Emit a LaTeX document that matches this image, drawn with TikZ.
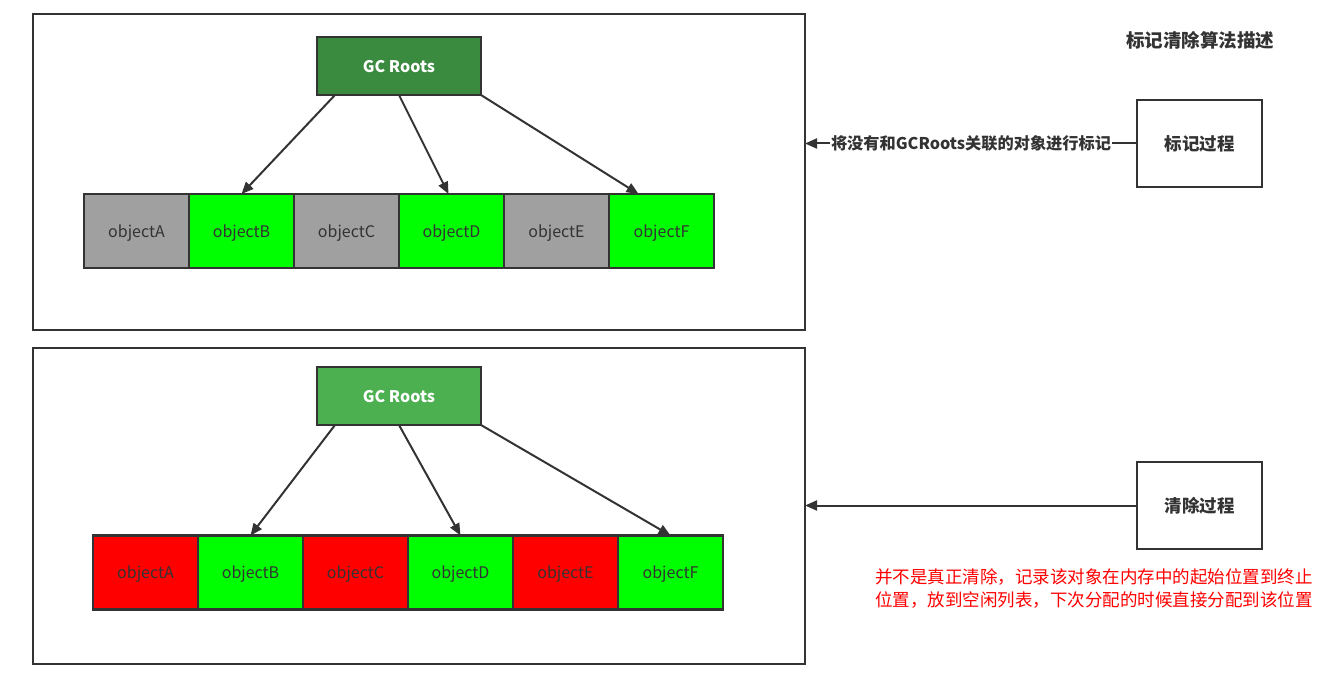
\documentclass[tikz,border=0pt]{standalone}
\usepackage{fontspec}
\setmainfont{Noto Sans CJK SC}
\usepackage{xcolor}
\usetikzlibrary{arrows.meta,positioning}

\definecolor{lineGray}{HTML}{333333}
\definecolor{objGray}{HTML}{A0A0A0}
\definecolor{objGreen}{HTML}{00FF00}
\definecolor{objRed}{HTML}{FF0000}
\definecolor{rootDark}{HTML}{3A8A3F}
\definecolor{rootLight}{HTML}{4CAF50}

\tikzset{
  frame/.style={draw=lineGray, line width=2pt, minimum width=772pt, minimum height=316pt, inner sep=0pt, outer sep=0pt},
  root/.style={draw=lineGray, line width=2pt, minimum width=164pt, minimum height=58pt, outer sep=0pt, text depth=0pt, text=white, font=\bfseries\fontsize{16}{19}\selectfont},
  obj/.style={draw=lineGray, line width=2.5pt, minimum width=105pt, minimum height=74pt, inner sep=0pt, outer sep=0pt, text depth=0pt, text=lineGray, font=\fontsize{16}{19}\selectfont},
  procbox/.style={draw=lineGray, line width=2pt, minimum width=125pt, minimum height=87pt, outer sep=0pt, text=lineGray, font=\bfseries\fontsize{17.5}{21}\selectfont},
  arr/.style={draw=lineGray, line width=2pt, -{Triangle[length=12pt,width=10pt]}}
}

\begin{document}
\begin{tikzpicture}[x=1pt, y=-1pt, node distance=0pt]
  \useasboundingbox (0,0) rectangle (1323,682);

  % marking phase
  \node[frame] (frame1) at (419,172) {};
  \node[root, fill=rootDark] (root1) at (399,66) {GC Roots};
  \node[obj, fill=objGray] (a1) at (136.5,231) {objectA};
  \node[obj, fill=objGreen, right=of a1] (b1) {objectB};
  \node[obj, fill=objGray, right=of b1] (c1) {objectC};
  \node[obj, fill=objGreen, right=of c1] (d1) {objectD};
  \node[obj, fill=objGray, right=of d1] (e1) {objectE};
  \node[obj, fill=objGreen, right=of e1] (f1) {objectF};

  \draw[arr] ([xshift=18pt]root1.south west) -- (b1.north);
  \draw[arr] (root1.south) -- ([xshift=-3pt]d1.north);
  \draw[arr] (root1.south east) -- ([xshift=-23pt]f1.north);

  % sweeping phase
  \node[frame] (frame2) at (419,505.5) {};
  \node[root, fill=rootLight] (root2) at (399,396) {GC Roots};
  \node[obj, fill=objRed] (a2) at (145.5,572.5) {objectA};
  \node[obj, fill=objGreen, right=of a2] (b2) {objectB};
  \node[obj, fill=objRed, right=of b2] (c2) {objectC};
  \node[obj, fill=objGreen, right=of c2] (d2) {objectD};
  \node[obj, fill=objRed, right=of d2] (e2) {objectE};
  \node[obj, fill=objGreen, right=of e2] (f2) {objectF};

  \draw[arr] ([xshift=18pt]root2.south west) -- (b2.north);
  \draw[arr] (root2.south) -- (d2.north);
  \draw[arr] (root2.south east) -- (f2.north);

  % description
  \node[text=lineGray, font=\bfseries\fontsize{18.5}{22}\selectfont] (title) at (1200,40) {标记清除算法描述};
  \node[procbox] (mark) at (1199.5,143.5) {标记过程};
  \node[procbox] (sweep) at (1199.5,505.5) {清除过程};

  \draw[arr] (mark.west) -- node[fill=white, inner sep=1pt, text=lineGray, font=\bfseries\fontsize{16.2}{19}\selectfont] {将没有和GCRoots关联的对象进行标记} (mark.west -| frame1.east);
  \draw[arr] (sweep.west) -- (sweep.west -| frame2.east);

  \node[text=objRed, align=left, anchor=north west, inner sep=0pt, font=\fontsize{17.5}{23}\selectfont] (note) at (875,568) {并不是真正清除，记录该对象在内存中的起始位置到终止\\位置，放到空闲列表，下次分配的时候直接分配到该位置};
\end{tikzpicture}
\end{document}
